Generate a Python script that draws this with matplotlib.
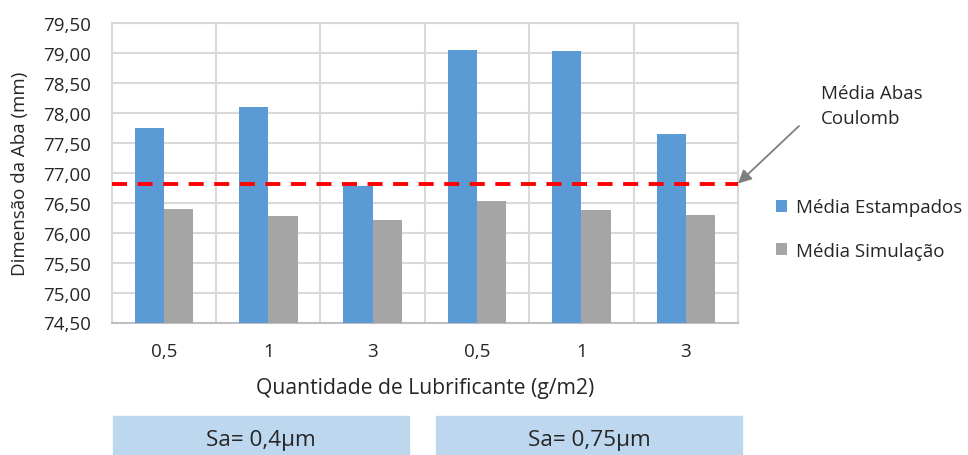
import matplotlib
matplotlib.use("Agg")
import matplotlib.pyplot as plt
from matplotlib.patches import Rectangle
import numpy as np

# Data
categories = ["0,5", "1", "3", "0,5", "1", "3"]
media_estampados = [77.75, 78.10, 76.78, 79.05, 79.03, 77.64]
media_simulacao = [76.40, 76.27, 76.21, 76.53, 76.37, 76.29]
media_abas_coulomb = 76.82
y_ticks = [74.50, 75.00, 75.50, 76.00, 76.50, 77.00, 77.50, 78.00, 78.50, 79.00, 79.50]
groups = ["Sa= 0,4µm", "Sa= 0,75µm"]

plt.rcParams["font.family"] = ["Open Sans", "DejaVu Sans"]
plt.rcParams["lines.scale_dashes"] = False
FS = 13.5
TXT = "#262626"
W, H = 968, 456

fig = plt.figure(figsize=(W / 100, H / 100), dpi=100)
ax = fig.add_axes([111.7 / W, 1 - 323.5 / H, (738 - 111.7) / W, (323.5 - 24) / H])

x = np.arange(len(categories))
bw = 0.28
ax.bar(x - bw / 2, media_estampados, bw, color="#5B9BD5", label="Média Estampados", zorder=3)
ax.bar(x + bw / 2, media_simulacao, bw, color="#A5A5A5", label="Média Simulação", zorder=3)

ax.axhline(media_abas_coulomb, color="#FF0000", lw=2.8, dashes=(10.8, 7.6), zorder=4)

ax.set_xlim(-0.5, len(categories) - 0.5)
ax.set_ylim(y_ticks[0], y_ticks[-1])
ax.set_yticks(y_ticks, [f"{v:.2f}".replace(".", ",") for v in y_ticks])
ax.set_xticks(x, categories)
ax.set_xticks(x[:-1] + 0.5, minor=True)
ax.tick_params(axis="both", which="both", length=0, labelsize=FS, labelcolor=TXT)
ax.tick_params(axis="x", pad=14)
ax.tick_params(axis="y", pad=15)

ax.grid(axis="y", which="major", color="#D9D9D9", lw=1.5, zorder=0)
ax.grid(axis="x", which="minor", color="#D9D9D9", lw=1.5, zorder=0)
ax.set_axisbelow(True)
for side in ("left", "top", "right"):
    ax.spines[side].set_color("#D9D9D9")
    ax.spines[side].set_linewidth(1.5)
ax.spines["bottom"].set_color("#BFBFBF")
ax.spines["bottom"].set_linewidth(1.5)

ax.set_ylabel("Dimensão da Aba (mm)", fontsize=FS, color=TXT)
ax.yaxis.label.set_va("center")
ax.yaxis.set_label_coords((20 - 111.7) / (738 - 111.7), 0.5)
ax.set_xlabel("Quantidade de Lubrificante (g/m2)", fontsize=15.2, color=TXT)
ax.xaxis.label.set_va("center")
ax.xaxis.set_label_coords(0.5, (323.5 - 389) / (323.5 - 24))

# Annotation for the Coulomb average line
ax.annotate("", xy=(1.0, media_abas_coulomb), xycoords=ax.get_yaxis_transform(),
            xytext=(799 / W, 1 - 127 / H), textcoords="figure fraction",
            arrowprops=dict(arrowstyle="-|>", color="#7F7F7F", lw=1.3,
                            mutation_scale=20, shrinkA=0, shrinkB=0),
            annotation_clip=False)
fig.text(821 / W, 1 - 106.5 / H, "Média Abas\nCoulomb", fontsize=FS, color=TXT,
         ha="left", va="center", linespacing=1.45)

leg = ax.legend(loc="center left", bbox_to_anchor=(776 / W, 1 - 230 / H),
                bbox_transform=fig.transFigure, frameon=False, fontsize=FS,
                handlelength=0.6, handleheight=0.6, handletextpad=0.45,
                labelspacing=1.37, borderpad=0, borderaxespad=0)
for t in leg.get_texts():
    t.set_color(TXT)

# Group boxes under the axis
boxes = [(112.7, 409.0), (435.7, 742.3)]
for (x0, x1), g in zip(boxes, groups):
    fig.add_artist(Rectangle((x0 / W, 0), (x1 - x0) / W, (456 - 417.3) / H,
                             transform=fig.transFigure, color="#BDD7EE", zorder=0))
    fig.text((x0 + x1) / 2 / W, 1 - 441 / H, g, fontsize=16.2, color=TXT,
             ha="center", va="center")

fig.savefig("out.png", dpi=100)
